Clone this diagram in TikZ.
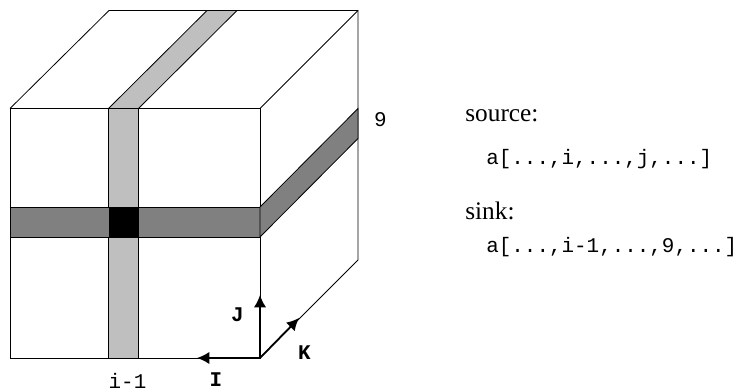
\documentclass[tikz,border=0pt]{standalone}
\usepackage{fontspec}
\setmainfont{Liberation Serif}
\setmonofont{Liberation Mono}
\usepackage{xcolor}
\definecolor{lightband}{gray}{0.75}
\definecolor{darkband}{gray}{0.5}
\tikzset{
    edge/.style={draw=black, line width=0.45pt},
    arrowline/.style={line width=1pt, -{Latex[length=7pt,width=7pt]}},
    label/.style={font=\ttfamily\fontsize{11.9}{14}\selectfont, inner sep=0pt, anchor=base},
    axis/.style={font=\ttfamily\bfseries\fontsize{11.9}{14}\selectfont, inner sep=0pt},
    head/.style={font=\fontsize{14.4}{17}\selectfont, inner sep=0pt, anchor=base west},
    code/.style={font=\ttfamily\fontsize{11.9}{14}\selectfont, inner sep=0pt, anchor=base west}
}
\usetikzlibrary{arrows.meta}

\begin{document}
\begin{tikzpicture}[x=0.02cm, y=-0.02cm]
    \useasboundingbox (0,0) rectangle (739,391);

    % Cubo
    \draw[edge] (10,108.5) rectangle (260,358);
    \draw[edge] (10,108.5) -- (109,10.5) -- (358,10.5) -- (358,260) -- (260,358);
    \draw[edge] (260,108.5) -- (358,10.5);

    % Faixa vertical
    \draw[edge, fill=lightband] (108.5,108.5) rectangle (138.5,358);
    \draw[edge, fill=lightband] (108.5,108.5) -- (207,10.5) -- (237,10.5) -- (138.5,108.5) -- cycle;

    % Faixa horizontal
    \draw[edge, fill=darkband] (10,207) rectangle (260,237);
    \draw[edge, fill=darkband] (260,207) -- (358,108.5) -- (358,138.5) -- (260,237) -- cycle;
    \fill[black] (108.5,207) rectangle (138.5,237);

    % Eixos
    \coordinate (origin) at (260,358);
    \coordinate (tipI) at (197,358);
    \coordinate (tipJ) at (260,295);
    \coordinate (tipK) at (299,318);
    \draw[arrowline] (origin) -- (tipI);
    \draw[arrowline] (origin) -- (tipJ);
    \draw[arrowline] (origin) -- (tipK);
    \node[axis] (labelI) at (216,380) {I};
    \node[axis] (labelJ) at (237.5,314.5) {J};
    \node[axis] (labelK) at (304.5,353) {K};

    % Indices
    \node[label] (labelrow) at (127.5,388) {i-1};
    \node[label] (labelnine) at (380.5,127) {9};

    % Texto
    \node[head] (source) at (465,122) {source:};
    \node[code] (sourcecode) at (486,165) {a[...,i,...,j,...]};
    \node[head] (sink) at (465,220) {sink:};
    \node[code] (sinkcode) at (486,253) {a[...,i-1,...,9,...]};
\end{tikzpicture}
\end{document}
